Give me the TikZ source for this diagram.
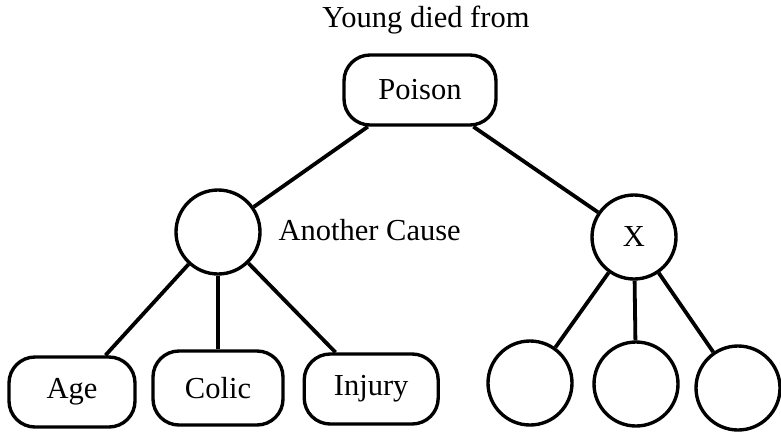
\documentclass[tikz,border=0pt]{standalone}
\usepackage{fontspec}
\setmainfont{Liberation Serif}
\usepackage{tikz}
\tikzset{main/.style={draw, circle, line width=2.4pt, minimum size=2.1cm},
         causebox/.style={draw, rectangle, rounded corners=0.65cm, line width=2.4pt, minimum width=3.25cm, minimum height=1.75cm}}

\begin{document}
\begin{tikzpicture}[line width=2.7pt, font=\fontsize{21.7}{26}\selectfont]
            \useasboundingbox (0,0) rectangle (19.525,10.9);
            \node[anchor=base] (title) at (10.65,10.225) {Young died from};
            \node[causebox, minimum width=3.8cm] (poison) at (10.5,8.65) {Poison};
            \node[main] (cause) at (5.45,5.1) {};
            \node[anchor=base west] (another) at (6.8,4.9) {Another Cause};
            \node[main] (x) at (15.85,4.975) {X};
            \node[causebox, minimum width=3.15cm] (age) at (1.8,1.1) {Age};
            \node[causebox, minimum height=1.85cm] (colic) at (5.45,1.2) {Colic};
            \node[causebox, minimum width=3.35cm] (injury) at (9.28,1.175) {Injury};
            \node[main] (b1) at (13.25,1.325) {};
            \node[main] (b2) at (15.9,1.3) {};
            \node[main] (b3) at (18.45,1.2) {};

            \draw (poison) -- (cause); 
            \draw (poison) -- (x); 
            \draw (cause) -- (age); 
            \draw (cause) -- (colic); 
            \draw (cause) -- (injury); 
            \draw (x) -- (b1); 
            \draw (x) -- (b2); 
            \draw (x) -- (b3); 
        \end{tikzpicture}
\end{document}
